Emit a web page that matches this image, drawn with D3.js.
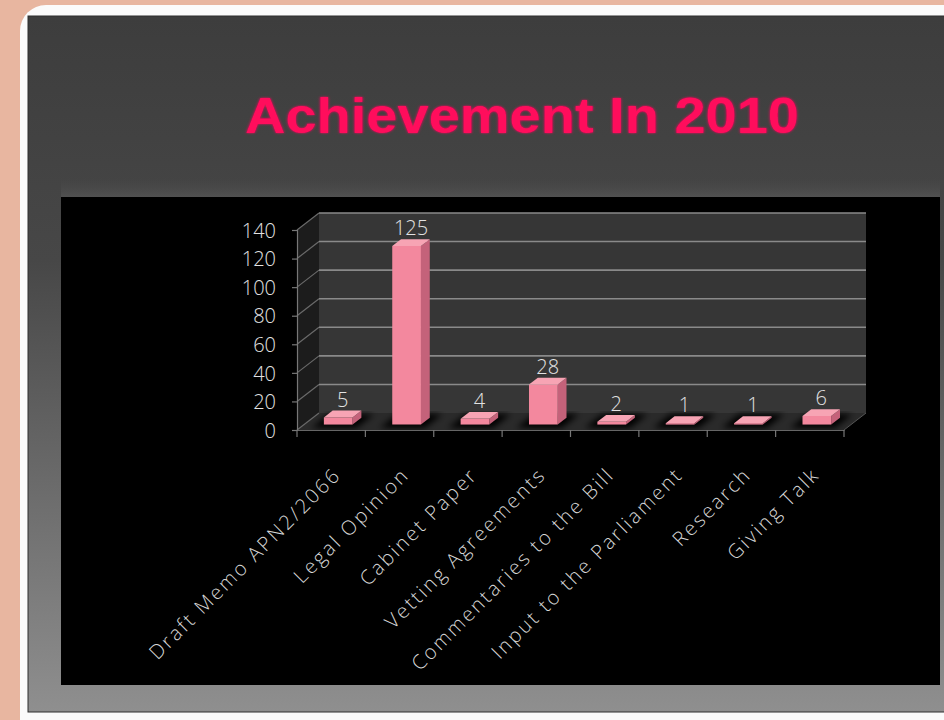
<!DOCTYPE html>
<html>
<head>
<meta charset="utf-8">
<script src="https://cdn.jsdelivr.net/npm/d3@7"></script>
<style>
  body { margin: 0; background: #e8b6a0; }
  svg { display: block; }
</style>
</head>
<body>
<svg id="chart" width="944" height="720"></svg>
<script>
// ---- data ----
const title = "Achievement In 2010";
const categories = [
  "Draft Memo APN2/2066",
  "Legal Opinion",
  "Cabinet Paper",
  "Vetting Agreements",
  "Commentaries to the Bill",
  "Input to the Parliament",
  "Research",
  "Giving Talk"
];
const values = [5, 125, 4, 28, 2, 1, 1, 6];
const yTicks = [0, 20, 40, 60, 80, 100, 120, 140];

// ---- page frame ----
const svg = d3.select("#chart");
const W = 944, H = 720;
const defs = svg.append("defs");

const slideGrad = defs.append("linearGradient")
  .attr("id", "slideGrad").attr("x1", 0).attr("y1", 0).attr("x2", 0).attr("y2", 1);
slideGrad.append("stop").attr("offset", "0%").attr("stop-color", "#3d3d3d");
slideGrad.append("stop").attr("offset", "35%").attr("stop-color", "#474747");
slideGrad.append("stop").attr("offset", "100%").attr("stop-color", "#8f8f8f");

const bandGrad = defs.append("linearGradient")
  .attr("id", "bandGrad").attr("x1", 0).attr("y1", 0).attr("x2", 0).attr("y2", 1);
bandGrad.append("stop").attr("offset", "0%").attr("stop-color", "#4a4a4a").attr("stop-opacity", 0);
bandGrad.append("stop").attr("offset", "100%").attr("stop-color", "#5a5a5a").attr("stop-opacity", 1);

const soft = defs.append("filter").attr("id", "soft")
  .attr("x", "-20%").attr("y", "-20%").attr("width", "140%").attr("height", "140%");
soft.append("feGaussianBlur").attr("stdDeviation", 3);

const glow = defs.append("filter").attr("id", "glow")
  .attr("x", "-10%").attr("y", "-30%").attr("width", "120%").attr("height", "160%");
glow.append("feGaussianBlur").attr("in", "SourceGraphic").attr("stdDeviation", 1.2).attr("result", "b");
const gm = glow.append("feMerge");
gm.append("feMergeNode").attr("in", "b");
gm.append("feMergeNode").attr("in", "SourceGraphic");

// white frame and slide
svg.append("rect").attr("x", 20).attr("y", 5).attr("width", W + 40).attr("height", H + 20)
  .attr("rx", 26).attr("fill", "#fbfbfb");
svg.append("rect").attr("x", 28).attr("y", 16).attr("width", W).attr("height", 696)
  .attr("fill", "url(#slideGrad)").attr("stroke", "#2e2e2e").attr("stroke-width", 1);

// title, stretched slightly wider
const titleX = 522, titleY = 133, stretch = 1.12;
svg.append("text")
  .attr("transform", `translate(${titleX},${titleY}) scale(${stretch},1)`)
  .attr("text-anchor", "middle")
  .attr("font-family", "Liberation Sans, Arial, sans-serif")
  .attr("font-weight", "bold").attr("font-size", 50)
  .attr("fill", "#ff0a5c")
  .attr("filter", "url(#glow)")
  .text(title);

// chart plate
svg.append("rect").attr("x", 61).attr("y", 178).attr("width", 879).attr("height", 19)
  .attr("fill", "url(#bandGrad)").attr("opacity", 0.6);
svg.append("rect").attr("x", 61).attr("y", 197).attr("width", 879).attr("height", 488)
  .attr("fill", "#000");

// ---- scales (front plane) with an oblique depth offset ----
const x = d3.scaleBand().domain(categories).range([297, 844]).paddingInner(0).paddingOuter(0);
const y = d3.scaleLinear().domain([0, 140]).range([430, 230]);
const DX = 22, DY = -17;
const P = (px, py, d) => [px + DX * d, py + DY * d];
const poly = pts => "M" + pts.map(p => p.join(",")).join("L") + "Z";

const x0 = x.range()[0], x1 = x.range()[1];
const yMax = y.domain()[1];
const g = svg.append("g");

// back wall
g.append("path")
  .attr("d", poly([P(x0, y(0), 1), P(x1, y(0), 1), P(x1, y(yMax), 1), P(x0, y(yMax), 1)]))
  .attr("fill", "#363636");
// side wall
g.append("path")
  .attr("d", poly([P(x0, y(0), 0), P(x0, y(0), 1), P(x0, y(yMax), 1), P(x0, y(yMax), 0)]))
  .attr("fill", "#1c1c1c");
// floor
g.append("path")
  .attr("d", poly([P(x0, y(0), 0), P(x1, y(0), 0), P(x1, y(0), 1), P(x0, y(0), 1)]))
  .attr("fill", "#2a2a2a");

// gridlines on back wall and side wall
yTicks.filter(t => t > 0).forEach(t => {
  const a = P(x0, y(t), 1), b = P(x1, y(t), 1), c = P(x0, y(t), 0);
  g.append("line").attr("x1", a[0]).attr("y1", a[1]).attr("x2", b[0]).attr("y2", b[1])
    .attr("stroke", "#8a8a8a").attr("stroke-width", 1.6);
  g.append("line").attr("x1", c[0]).attr("y1", c[1]).attr("x2", a[0]).attr("y2", a[1])
    .attr("stroke", "#6a6a6a").attr("stroke-width", 1.2);
});
{
  const c = P(x0, y(0), 0), a = P(x0, y(0), 1);
  g.append("line").attr("x1", c[0]).attr("y1", c[1]).attr("x2", a[0]).attr("y2", a[1])
    .attr("stroke", "#6a6a6a").attr("stroke-width", 1.2);
  const r0 = P(x1, y(0), 0), r1 = P(x1, y(0), 1);
  g.append("line").attr("x1", r0[0]).attr("y1", r0[1]).attr("x2", r1[0]).attr("y2", r1[1])
    .attr("stroke", "#555").attr("stroke-width", 1);
}

// ---- bars ----
const barW = x.bandwidth() * 0.42;
const d0 = 0.32, d1 = 0.72;
const bars = g.selectAll("g.bar")
  .data(categories.map((c, i) => ({ c, v: values[i] })))
  .join("g").attr("class", "bar");

bars.append("path")
  .attr("d", d => {
    const xs = x(d.c) + (x.bandwidth() - barW) / 2;
    return poly([P(xs - 8, y(0), d0 - 0.2), P(xs + barW + 8, y(0), d0 - 0.2),
                 P(xs + barW + 8, y(0), d1 + 0.2), P(xs - 8, y(0), d1 + 0.2)]);
  })
  .attr("fill", "#000").attr("filter", "url(#soft)");

bars.append("path")
  .attr("d", d => {
    const xs = x(d.c) + (x.bandwidth() - barW) / 2;
    return poly([P(xs + barW, y(0), d0), P(xs + barW, y(0), d1), P(xs + barW, y(d.v), d1), P(xs + barW, y(d.v), d0)]);
  })
  .attr("fill", "#c4627a");
bars.append("path")
  .attr("d", d => {
    const xs = x(d.c) + (x.bandwidth() - barW) / 2;
    return poly([P(xs, y(0), d0), P(xs + barW, y(0), d0), P(xs + barW, y(d.v), d0), P(xs, y(d.v), d0)]);
  })
  .attr("fill", "#f3889e");
bars.append("path")
  .attr("d", d => {
    const xs = x(d.c) + (x.bandwidth() - barW) / 2;
    return poly([P(xs, y(d.v), d0), P(xs + barW, y(d.v), d0), P(xs + barW, y(d.v), d1), P(xs, y(d.v), d1)]);
  })
  .attr("fill", "#f7a4b4");

// value labels
bars.append("text")
  .attr("x", d => P(x(d.c) + x.bandwidth() / 2, 0, (d0 + d1) / 2)[0])
  .attr("y", d => P(0, y(d.v), d1)[1] - 4)
  .attr("text-anchor", "middle")
  .attr("font-family", "Open Sans, DejaVu Sans, sans-serif")
  .attr("font-weight", 300)
  .attr("font-size", 20)
  .attr("fill", "#e2e2e2")
  .text(d => d.v);

// ---- axes ----
const yAxis = d3.axisLeft(y).tickValues(yTicks).tickSize(5).tickPadding(16).tickFormat(d3.format("d"));
const ya = svg.append("g").attr("transform", `translate(${x0},0)`).call(yAxis);
ya.select(".domain").attr("stroke", "#777").attr("stroke-width", 1.2);
ya.selectAll(".tick line").attr("stroke", "#777").attr("stroke-width", 1.2);
ya.selectAll(".tick text")
  .attr("font-family", "Open Sans, DejaVu Sans, sans-serif")
  .attr("font-weight", 300)
  .attr("font-size", 20)
  .attr("fill", "#e2e2e2")
  .attr("dy", "0.36em");

const xAxis = d3.axisBottom(x).tickSize(0).tickFormat("");
const xa = svg.append("g").attr("transform", `translate(0,${y(0)})`).call(xAxis);
xa.select(".domain").attr("stroke", "#666").attr("stroke-width", 1.2);
xa.selectAll(".tick").remove();

// boundary ticks along the front edge
svg.append("g").selectAll("line")
  .data(categories.map(c => x(c)).concat([x1]))
  .join("line")
  .attr("x1", d => d).attr("x2", d => d)
  .attr("y1", y(0)).attr("y2", y(0) + 7)
  .attr("stroke", "#777").attr("stroke-width", 1.2);

// rotated category labels
svg.append("g").selectAll("text")
  .data(categories)
  .join("text")
  .attr("transform", d => `translate(${x(d) + x.bandwidth() / 2 + 11},${y(0) + 46}) rotate(-45)`)
  .attr("text-anchor", "end")
  .attr("font-family", "Open Sans, DejaVu Sans, sans-serif")
  .attr("font-weight", 300)
  .attr("font-size", 20)
  .attr("letter-spacing", 2.3)
  .attr("fill", "#d6d6d6")
  .text(d => d);
</script>
</body>
</html>
